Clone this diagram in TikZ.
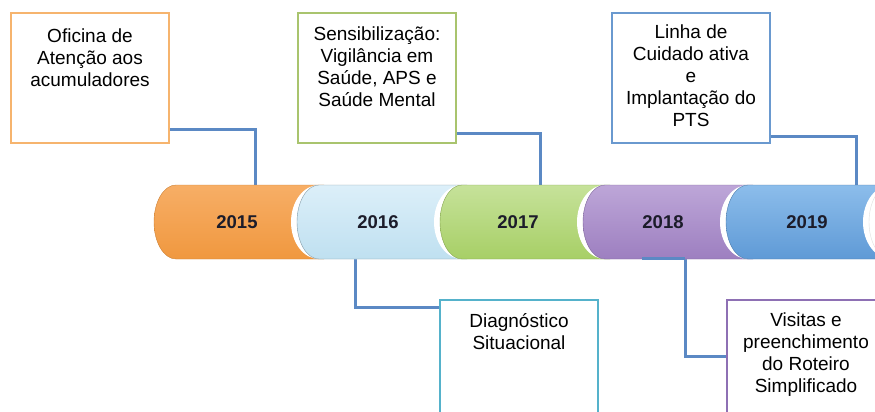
\documentclass[tikz,border=0pt]{standalone}
\usepackage{fontspec}
\setmainfont{Liberation Sans}
\usetikzlibrary{positioning}
\definecolor{linkcol}{HTML}{5B89C4}
\definecolor{yearcol}{HTML}{1C1C2A}
\definecolor{orgline}{HTML}{F6B46E}
\definecolor{grnline}{HTML}{A9C46E}
\definecolor{bluline}{HTML}{6A99CF}
\definecolor{tealine}{HTML}{55B2CB}
\definecolor{purline}{HTML}{8E70B4}
\tikzset{
  evbox/.style={line width=2pt, fill=white, minimum width=158pt, minimum height=130pt, inner sep=0pt},
  evtext/.style={font=\fontsize{19}{22}\selectfont, align=center, inner sep=0pt},
  yeartext/.style={font=\fontsize{18.5}{20}\selectfont\bfseries, text=yearcol},
  link/.style={draw=linkcol, line width=3pt},
}
\begin{document}
\begin{tikzpicture}[x=1pt, y=-1pt]
\useasboundingbox (0,0) rectangle (875,412);
\clip (0,0) rectangle (875,412);
\coordinate (c15) at (255,186);
\coordinate (c17) at (540,186);
\coordinate (c19) at (856,186);
\coordinate (c16) at (355,258);
\coordinate (c18a) at (642,258);
\coordinate (c18) at (685,258);
\node[evbox, draw=orgline] (b15) at (90,78) {};
\node[evbox, draw=grnline] (b17) at (377,78) {};
\node[evbox, draw=bluline] (b19) at (691,78) {};
\node[evbox, draw=tealine] (b16) at (519,365) {};
\node[evbox, draw=purline] (b18) at (806,365) {};
\draw[link] ([yshift=15pt]b15.south east) -| (c15);
\draw[link] ([yshift=11pt]b17.south east) -| (c17);
\draw[link] ([yshift=8pt]b19.south east) -| (c19);
\draw[link] (c16) |- ([yshift=-8pt]b16.north west);
\draw[link] (c18a) -- (c18) |- ([yshift=-57pt]b18.north west);
\node[evtext, below=17pt of b15.north] (t15) {Oficina de\\Atenção aos\\acumuladores};
\node[evtext, below=15pt of b17.north] (t17) {Sensibilização:\\Vigilância em\\Saúde, APS e\\Saúde Mental};
\node[evtext, below=13pt of b19.north] (t19) {Linha de\\Cuidado ativa\\e\\Implantação do\\PTS};
\node[evtext, below=14pt of b16.north] (t16) {Diagnóstico\\Situacional};
\node[evtext, below=14pt of b18.north] (t18) {Visitas e\\preenchimento\\do Roteiro\\Simplificado};
\definecolor{col}{HTML}{F7AE66}\definecolor{colb}{HTML}{F0983F}
\shade[top color=col, bottom color=colb, draw=colb!85!black, line width=0.4pt] (176,185) arc[start angle=270, end angle=90, x radius=22, y radius=37] -- (324,259) -- (324,185) -- cycle;
\node[yeartext] (y15) at (237,222) {2015};
\definecolor{col}{HTML}{DCEFF9}\definecolor{colb}{HTML}{BFE0F0}
\fill[white] (319,185) arc[start angle=270, end angle=90, x radius=28, y radius=37] -- (467,259) -- (467,185) -- cycle;
\shade[top color=col, bottom color=colb, draw=colb!70!black, line width=0.4pt] (319,185) arc[start angle=270, end angle=90, x radius=22, y radius=37] -- (467,259) -- (467,185) -- cycle;
\node[yeartext] (y16) at (378,222) {2016};
\definecolor{col}{HTML}{C6E29A}\definecolor{colb}{HTML}{A7CF66}
\fill[white] (462,185) arc[start angle=270, end angle=90, x radius=28, y radius=37] -- (610,259) -- (610,185) -- cycle;
\shade[top color=col, bottom color=colb, draw=colb!80!black, line width=0.4pt] (462,185) arc[start angle=270, end angle=90, x radius=22, y radius=37] -- (610,259) -- (610,185) -- cycle;
\node[yeartext] (y17) at (518,222) {2017};
\definecolor{col}{HTML}{BDA6D8}\definecolor{colb}{HTML}{9D7FC0}
\fill[white] (605,185) arc[start angle=270, end angle=90, x radius=28, y radius=37] -- (753,259) -- (753,185) -- cycle;
\shade[top color=col, bottom color=colb, draw=colb!80!black, line width=0.4pt] (605,185) arc[start angle=270, end angle=90, x radius=22, y radius=37] -- (753,259) -- (753,185) -- cycle;
\node[yeartext] (y18) at (663,222) {2018};
\definecolor{col}{HTML}{8CBDEB}\definecolor{colb}{HTML}{5F9AD6}
\fill[white] (748,185) arc[start angle=270, end angle=90, x radius=28, y radius=37] -- (896,259) -- (896,185) -- cycle;
\shade[top color=col, bottom color=colb, draw=colb!80!black, line width=0.4pt] (748,185) arc[start angle=270, end angle=90, x radius=22, y radius=37] -- (896,259) -- (896,185) -- cycle;
\node[yeartext] (y19) at (807,222) {2019};
\fill[white] (891,185) arc[start angle=270, end angle=90, x radius=28, y radius=37] -- (1039,259) -- (1039,185) -- cycle;
\fill[white, draw=gray!25, line width=0.4pt] (891,185) arc[start angle=270, end angle=90, x radius=22, y radius=37] -- (1039,259) -- (1039,185) -- cycle;
\draw[link] (c18a) -- (c18);
\end{tikzpicture}
\end{document}
